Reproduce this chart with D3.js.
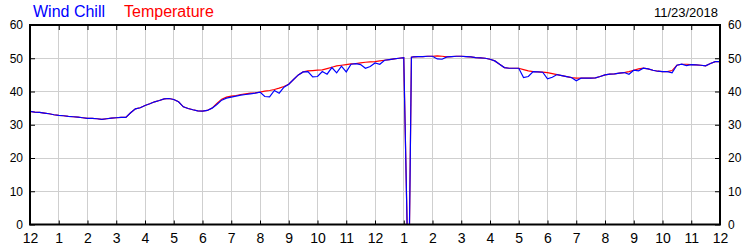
<!DOCTYPE html>
<html>
<head>
<meta charset="utf-8">
<script src="https://cdn.jsdelivr.net/npm/d3@7"></script>
<style>
  body { margin: 0; background: #fff; }
  svg { display: block; font-family: 'Liberation Sans', Arial, sans-serif; }
</style>
</head>
<body>
<div id="chart"></div>
<script>
// readings every 10 minutes from midnight, plus the short dropout after 1 pm
const minutes = [...d3.range(0, 790, 10), 787, 792, 796, ...d3.range(800, 1441, 10)];

const temperature = [
  34.0, 33.8, 33.7, 33.5, 33.3, 33.0,
  32.8, 32.7, 32.5, 32.4, 32.3, 32.1,
  31.9, 31.9, 31.8, 31.6, 31.8, 32.0,
  32.1, 32.2, 32.2, 33.6, 34.8, 35.1,
  35.8, 36.3, 36.9, 37.3, 37.8, 37.9,
  37.6, 36.9, 35.4, 34.9, 34.5, 34.2,
  34.1, 34.3, 35.0, 36.4, 37.7, 38.3,
  38.6, 38.8, 39.1, 39.3, 39.5, 39.6,
  39.8, 40.1, 40.3, 40.6, 41.0, 41.5,
  42.2, 43.6, 45.0, 45.9, 46.2, 46.3,
  46.4, 46.5, 46.9, 47.3, 47.7, 47.9,
  48.1, 48.3, 48.4, 48.6, 48.8, 48.9,
  49.0, 49.2, 49.4, 49.6, 49.8, 50.0,
  50.2, 0, 0, 50.3, 50.4, 50.5, 50.5, 50.6,
  50.6, 50.7, 50.6, 50.4, 50.5, 50.6,
  50.6, 50.5, 50.4, 50.2, 50.1, 50.0,
  49.7, 49.2, 48.2, 47.2, 47.0, 47.0,
  47.0, 46.6, 46.2, 46.0, 45.9, 45.8,
  45.7, 45.4, 45.1, 44.8, 44.5, 44.2,
  44.0, 44.0, 44.0, 44.0, 44.1, 44.5,
  45.0, 45.2, 45.3, 45.5, 45.7, 46.0,
  46.4, 46.8, 47.0, 46.8, 46.4, 46.1,
  46.0, 46.0, 46.3, 47.9, 48.2, 48.2,
  48.1, 48.0, 47.9, 47.7, 48.4, 49.0,
  49.0
];

const windChill = [
  34.0, 33.8, 33.7, 33.5, 33.3, 33.0,
  32.8, 32.7, 32.5, 32.4, 32.3, 32.1,
  31.9, 31.9, 31.8, 31.6, 31.8, 32.0,
  32.1, 32.2, 32.2, 33.6, 34.8, 35.1,
  35.8, 36.3, 36.9, 37.3, 37.8, 37.9,
  37.6, 36.9, 35.4, 34.9, 34.5, 34.2,
  34.1, 34.3, 35.0, 36.1, 37.4, 38.0,
  38.3, 38.6, 38.9, 39.1, 39.3, 39.5,
  39.8, 38.5, 38.4, 40.3, 39.5, 41.3,
  42.2, 43.6, 45.0, 45.9, 46.0, 44.4,
  44.5, 46.0, 45.2, 47.2, 45.6, 47.6,
  45.9, 48.2, 48.4, 48.1, 47.0, 47.5,
  48.6, 48.2, 49.4, 49.6, 49.8, 50.0,
  50.2, 0, 0, 50.3, 50.4, 50.5, 50.5, 50.6,
  50.6, 49.8, 49.7, 50.4, 50.5, 50.6,
  50.6, 50.5, 50.4, 50.2, 50.1, 50.0,
  49.7, 49.2, 48.2, 47.2, 47.0, 47.0,
  47.0, 44.2, 44.5, 46.0, 45.9, 45.8,
  43.8, 44.3, 45.1, 44.8, 44.5, 44.2,
  43.2, 44.0, 44.0, 44.0, 44.1, 44.5,
  45.0, 45.2, 45.3, 45.5, 45.7, 45.2,
  46.4, 46.2, 47.0, 46.8, 46.4, 46.1,
  46.0, 46.0, 45.6, 47.9, 48.2, 47.8,
  48.1, 48.0, 47.9, 47.7, 48.4, 49.0,
  49.0
];

const hourTicks = d3.range(0, 1441, 60);
const valueTicks = [0, 10, 20, 30, 40, 50, 60];
const dateLabel = '11/23/2018';

const width = 750;
const height = 250;
const plot = { left: 30, right: 720, top: 25, bottom: 224.5 };

const svg = d3.select('#chart')
  .append('svg')
  .attr('width', width)
  .attr('height', height);

const x = d3.scaleLinear().domain([0, 1440]).range([plot.left, plot.right]);
const y = d3.scaleLinear().domain([0, 60]).range([plot.bottom, plot.top]);

const hourLabel = m => String((m / 60) % 12 || 12);

// grid
svg.append('g')
  .selectAll('line.v')
  .data(hourTicks.slice(1, -1))
  .join('line')
  .attr('x1', d => x(d)).attr('x2', d => x(d))
  .attr('y1', plot.top).attr('y2', plot.bottom)
  .attr('stroke', '#cfcfcf').attr('shape-rendering', 'crispEdges');

svg.append('g')
  .selectAll('line.h')
  .data(valueTicks.slice(1, -1))
  .join('line')
  .attr('x1', plot.left).attr('x2', plot.right)
  .attr('y1', d => y(d)).attr('y2', d => y(d))
  .attr('stroke', '#cfcfcf').attr('shape-rendering', 'crispEdges');

// series
const line = vals => d3.line()
  .x((d, i) => x(minutes[i]))
  .y(d => y(d))(vals);

svg.append('path')
  .attr('d', line(temperature))
  .attr('fill', 'none')
  .attr('stroke', '#ff0000')
  .attr('stroke-width', 1.2);

svg.append('path')
  .attr('d', line(windChill))
  .attr('fill', 'none')
  .attr('stroke', '#0000ff')
  .attr('stroke-width', 1.2);

// axes, all ticks pointing inwards
const styleAxis = g => {
  g.select('.domain').remove();
  g.selectAll('.tick line').attr('stroke', '#000');
  g.selectAll('.tick text').attr('fill', '#000');
};

svg.append('g')
  .attr('transform', `translate(0,${plot.bottom})`)
  .call(d3.axisBottom(x).tickValues(hourTicks).tickSize(-4).tickPadding(9).tickFormat(hourLabel))
  .call(styleAxis)
  .call(g => g.selectAll('.tick text')
    .attr('font-family', "'Liberation Sans Narrow', 'Arial Narrow', 'Liberation Sans', sans-serif")
    .attr('font-size', 14));

svg.append('g')
  .attr('transform', `translate(0,${plot.top})`)
  .call(d3.axisTop(x).tickValues(hourTicks).tickSize(-5).tickFormat(''))
  .call(styleAxis);

svg.append('g')
  .attr('transform', `translate(${plot.left},0)`)
  .call(d3.axisLeft(y).tickValues(valueTicks).tickSize(-5).tickPadding(7))
  .call(styleAxis)
  .call(g => g.selectAll('.tick text').attr('font-size', 12).attr('font-family', "'Liberation Sans', Arial, sans-serif"));

svg.append('g')
  .attr('transform', `translate(${plot.right},0)`)
  .call(d3.axisRight(y).tickValues(valueTicks).tickSize(-5).tickPadding(8))
  .call(styleAxis)
  .call(g => g.selectAll('.tick text').attr('font-size', 12).attr('font-family', "'Liberation Sans', Arial, sans-serif"));

// frame
svg.append('rect')
  .attr('x', plot.left).attr('y', plot.top)
  .attr('width', plot.right - plot.left)
  .attr('height', plot.bottom - plot.top)
  .attr('fill', 'none')
  .attr('stroke', '#000')
  .attr('stroke-width', 2);

// header
svg.append('text')
  .attr('x', 33).attr('y', 17)
  .attr('font-size', 16).attr('fill', '#0000ff')
  .text('Wind Chill');

svg.append('text')
  .attr('x', 124).attr('y', 17)
  .attr('font-size', 16).attr('fill', '#ff0000')
  .text('Temperature');

svg.append('text')
  .attr('x', 718).attr('y', 17)
  .attr('text-anchor', 'end')
  .attr('font-size', 13).attr('fill', '#000')
  .text(dateLabel);
</script>
</body>
</html>
